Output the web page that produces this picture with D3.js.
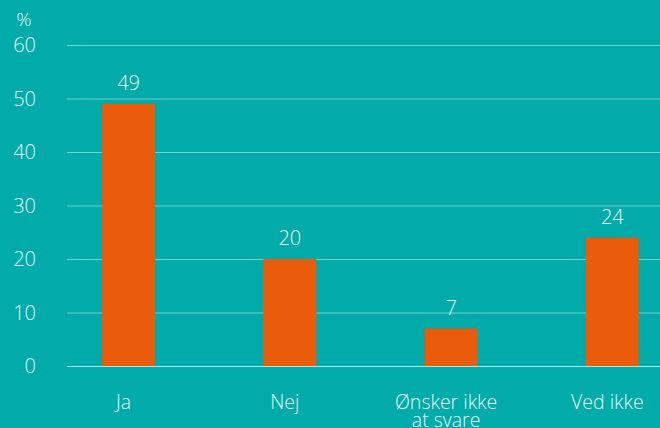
<!DOCTYPE html>
<html>
<head>
<meta charset="utf-8">
<script src="https://cdn.jsdelivr.net/npm/d3@7"></script>
<style>
  html, body { margin: 0; padding: 0; background: #00aba9; }
  svg { display: block; }
  text { font-family: "Open Sans", "Noto Sans", sans-serif; font-weight: 300; fill: #e8f8f7; }
</style>
</head>
<body>
<svg id="chart" width="660" height="428"></svg>
<script>
const categories = ["Ja", "Nej", "Ønsker ikke\nat svare", "Ved ikke"];
const values = [49, 20, 7, 24];
const yTicks = [0, 10, 20, 30, 40, 50, 60];
const unitLabel = "%";

const W = 660, H = 428;
const svg = d3.select("#chart");

svg.append("rect").attr("width", W).attr("height", H).attr("fill", "#00aba9");

const y = d3.scaleLinear().domain([0, 60]).range([366, 45]);
const x = d3.scaleBand().domain(categories).range([48, 693]).padding(0);
const barW = 53;

// gridlines
svg.append("g").selectAll("line").data(yTicks).join("line")
  .attr("x1", 67).attr("x2", W)
  .attr("y1", d => y(d) + 0.5).attr("y2", d => y(d) + 0.5)
  .attr("stroke", d => d === 0 ? "rgba(255,255,255,0.7)" : "rgba(255,255,255,0.45)")
  .attr("stroke-width", 1);

// y tick labels
svg.append("g").selectAll("text").data(yTicks).join("text")
  .attr("x", 36).attr("y", d => y(d))
  .attr("dy", "0.36em")
  .attr("text-anchor", "end")
  .attr("font-size", 20)
  .text(d => d);

svg.append("text").attr("x", 24).attr("y", 26)
  .attr("text-anchor", "middle").attr("font-size", 19).text(unitLabel);

const cx = d => x(d) + x.bandwidth() / 2;

// bars
svg.append("g").selectAll("rect").data(categories).join("rect")
  .attr("x", d => cx(d) - barW / 2)
  .attr("width", barW)
  .attr("y", (d, i) => y(values[i]))
  .attr("height", (d, i) => y(0) - y(values[i]))
  .attr("fill", "#eb5b0c");

// value labels
svg.append("g").selectAll("text").data(categories).join("text")
  .attr("x", cx)
  .attr("y", (d, i) => y(values[i]) - 14)
  .attr("text-anchor", "middle")
  .attr("font-size", 20)
  .text((d, i) => values[i]);

// category labels (multi-line via tspans)
const cat = svg.append("g").selectAll("text").data(categories).join("text")
  .attr("x", d => cx(d) - 5)
  .attr("y", 409)
  .attr("text-anchor", "middle")
  .attr("font-size", 19.5);
cat.each(function(d) {
  const lines = d.split("\n");
  d3.select(this).selectAll("tspan").data(lines).join("tspan")
    .attr("x", cx(d) - 5)
    .attr("dy", (l, i) => i === 0 ? 0 : 18)
    .text(l => l);
});
</script>
</body>
</html>
